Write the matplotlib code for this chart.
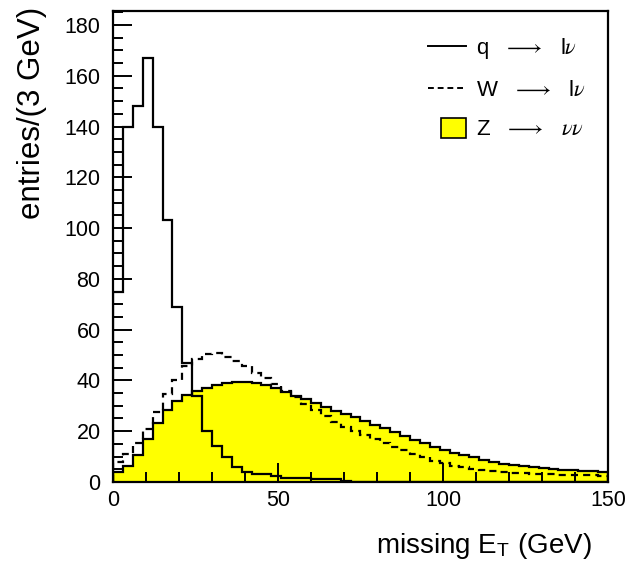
import numpy as np
import matplotlib
matplotlib.use("Agg")
import matplotlib.pyplot as plt
from matplotlib.patches import Patch, Rectangle
from matplotlib.lines import Line2D
from matplotlib.legend_handler import HandlerPatch

# binning: 3 GeV bins from 0 to 150
bin_edges = np.arange(0, 151, 3)

# q -> l nu (solid)
q_lnu = [75, 140, 148, 167, 140, 103, 69, 47, 34, 20,
         14, 10, 6, 4, 3, 3, 2.5, 1.5, 1.5, 1.5,
         1, 1, 1, 0.5, 0, 0, 0, 0, 0, 0,
         0, 0, 0, 0, 0, 0, 0, 0, 0, 0,
         0, 0, 0, 0, 0, 0, 0, 0, 0, 0]

# W -> l nu (dashed)
w_lnu = [8, 11, 15.5, 21, 27.5, 34.5, 40, 45.5, 48.5, 50.4,
         50.7, 49.3, 47.8, 45.5, 43.1, 40.8, 38.5, 36, 33.6, 30.8,
         28.2, 25.8, 23.7, 21.8, 20.2, 18.5, 16.8, 15.2, 13.7, 12.6,
         11, 9.7, 8.4, 7.4, 6.4, 6, 5.2, 4.7, 4.4, 4,
         3.7, 3.5, 3.3, 3.1, 3.0, 2.9, 2.8, 2.7, 2.6, 2.5]

# Z -> nu nu (yellow filled)
z_nunu = [4, 6.3, 10.6, 16.8, 23.4, 28.3, 32, 34.3, 36, 37,
          38.2, 39, 39.5, 39.5, 39, 38, 37, 35.5, 34, 32.5,
          31, 29.7, 28.1, 26.8, 25.5, 24, 22.4, 21.1, 19.8, 18.1,
          16.6, 15.2, 13.7, 12.6, 11.5, 10.6, 9.7, 8.7, 7.8, 7.2,
          6.7, 6.3, 5.9, 5.5, 5.2, 4.9, 4.6, 4.4, 4.2, 4.0]

x_ticks = [0, 50, 100, 150]
y_ticks = [0, 20, 40, 60, 80, 100, 120, 140, 160, 180]

plt.rcParams['font.family'] = ['Liberation Sans', 'DejaVu Sans']
plt.rcParams['mathtext.fontset'] = 'custom'
plt.rcParams['mathtext.rm'] = 'Liberation Sans'
plt.rcParams['mathtext.it'] = 'STIXGeneral:italic'
plt.rcParams['mathtext.bf'] = 'Liberation Sans:bold'

fig = plt.figure(figsize=(6.28, 5.67), dpi=100)
ax = fig.add_axes([0.18, 0.150, 0.788, 0.8306])

# filled Z histogram with black outline
ax.stairs(z_nunu, bin_edges, fill=True, color='#ffff00', zorder=1)
ax.stairs(z_nunu, bin_edges, color='black', linewidth=1.6, zorder=2)
ax.stairs(w_lnu, bin_edges, color='black', linewidth=1.6,
          linestyle=(0, (3.2, 2.3)), zorder=3)
ax.stairs(q_lnu, bin_edges, color='black', linewidth=1.6, zorder=4)

ax.set_xlim(0, 150)
ax.set_ylim(0, 185.5)
ax.set_xticks(x_ticks)
ax.set_xticks(np.arange(0, 151, 10), minor=True)
ax.set_yticks(y_ticks)
ax.set_yticks(np.arange(0, 186, 5), minor=True)
ax.tick_params(which='major', direction='in', length=14, width=1.4,
               labelsize=15.5, top=False, right=False)
ax.tick_params(which='minor', direction='in', length=7, width=1.4,
               top=False, right=False)
ax.tick_params(axis='x', pad=6)
ax.tick_params(axis='y', pad=9)
for s in ax.spines.values():
    s.set_linewidth(1.6)

ax.set_xlabel(r'missing E$_\mathrm{T}$ (GeV)', fontsize=20)
ax.xaxis.set_label_coords(0.968, -0.104)
ax.xaxis.label.set_ha('right')
ax.xaxis.label.set_va('top')
ax.set_ylabel('entries/(3 GeV)', fontsize=22.5)
ax.yaxis.set_label_coords(-0.164, 1.008)
ax.yaxis.label.set_rotation_mode('anchor')
ax.yaxis.label.set_ha('right')
ax.yaxis.label.set_va('center')


def square_box(legend, orig_handle, xdescent, ydescent, width, height, fontsize):
    w = height * 1.6
    h = height * 1.3
    return Rectangle((width - w - xdescent, -ydescent - 0.15 * height), w, h)


handles = [
    Line2D([], [], color='black', linewidth=1.4),
    Line2D([], [], color='black', linewidth=1.4, linestyle=(0, (3, 2))),
    Patch(facecolor='#ffff00', edgecolor='black', linewidth=1.2),
]
labels = [r'q $\;\;\longrightarrow\;\;$ l$\nu$',
          r'W $\;\;\longrightarrow\;\;$ l$\nu$',
          r'Z $\;\;\longrightarrow\;\;$ $\nu\nu$']
ax.legend(handles, labels, loc='upper right', frameon=False, fontsize=16,
          handlelength=1.7, handletextpad=0.45, labelspacing=0.85,
          bbox_to_anchor=(0.995, 0.99),
          handler_map={Patch: HandlerPatch(patch_func=square_box)})

fig.savefig('out.png', dpi=100)
